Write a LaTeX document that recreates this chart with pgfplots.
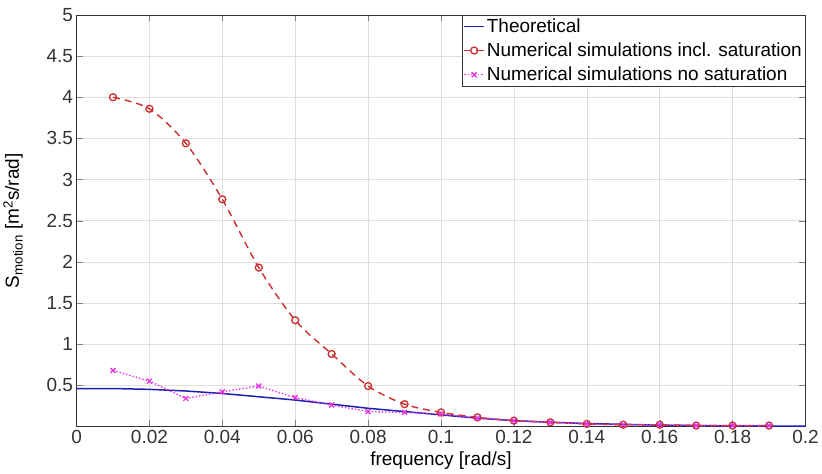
\documentclass[border=0pt]{standalone}
\usepackage{fontspec}
\setmainfont{Liberation Sans}
\usepackage{pgfplots}
\pgfplotsset{compat=1.18}

\definecolor{theo}{rgb}{0.12,0.12,0.7}
\definecolor{sat}{rgb}{0.8,0.18,0.18}
\definecolor{nosat}{rgb}{0.9,0.2,0.9}

\begin{document}
\begin{tikzpicture}
  \begin{axis}[
      scale only axis,
      width=730pt, height=412pt,
      xmin=0, xmax=0.2, ymin=0, ymax=5,
      xtick={0,0.02,...,0.2},
      ytick={0.5,1,...,5},
      xticklabels={0,0.02,0.04,0.06,0.08,0.1,0.12,0.14,0.16,0.18,0.2},
      scaled x ticks=false,
      tick align=inside,
      tick pos=both,
      major tick length=6pt,
      grid=major,
      major grid style={gray!25},
      axis line style={black!80, line width=0.8pt},
      font=\fontsize{19}{22}\selectfont,
      tick label style={font=\fontsize{19}{22}\selectfont, text=black!80},
      /pgf/number format/assume math mode=true,
      xlabel={frequency [rad/s]},
      ylabel={S\textsubscript{motion} [m\textsuperscript{2}s/rad]},
      xlabel style={yshift=-2pt},
      ylabel style={yshift=17pt},
      legend style={at={(1,1)}, anchor=north east, draw=black!80,
        font=\fontsize{19}{22}\selectfont, inner sep=1.5pt,
        legend cell align=left, row sep=5pt},
      legend image code/.code={
        \draw[#1] (0cm,0cm) -- (0.7cm,0cm);
        \draw[#1, mark repeat=2, mark phase=2] plot coordinates {(0cm,0cm) (0.35cm,0cm) (0.7cm,0cm)};
      },
    ]
    \addplot[theo, line width=1.5pt] coordinates {
      (0,0.46) (0.01,0.46) (0.02,0.45) (0.03,0.43) (0.04,0.40) (0.05,0.36)
      (0.06,0.32) (0.07,0.27) (0.08,0.22) (0.09,0.18) (0.10,0.14)
      (0.11,0.10) (0.12,0.07) (0.13,0.05) (0.14,0.035) (0.15,0.025)
      (0.16,0.015) (0.17,0.01) (0.18,0.006) (0.19,0.004) (0.2,0.003)
    };
    \addlegendentry{Theoretical}
    \addplot[sat, line width=1.4pt, dashed, dash pattern=on 7pt off 5pt, smooth,
      mark=o, mark size=3.5pt, mark options={solid, line width=1.3pt}] coordinates {
      (0.01,4.00) (0.02,3.86) (0.03,3.44) (0.04,2.76) (0.05,1.93)
      (0.06,1.29) (0.07,0.88) (0.08,0.49) (0.09,0.27) (0.10,0.17)
      (0.11,0.11) (0.12,0.07) (0.13,0.05) (0.14,0.03) (0.15,0.02)
      (0.16,0.02) (0.17,0.01) (0.18,0.01) (0.19,0.01)
    };
    \addlegendentry{Numerical simulations incl. saturation}
    \addplot[nosat, line width=1.4pt, dotted,
      mark=x, mark size=3.5pt, mark options={solid, line width=1.3pt}] coordinates {
      (0.01,0.68) (0.02,0.55) (0.03,0.34) (0.04,0.42) (0.05,0.49)
      (0.06,0.35) (0.07,0.26) (0.08,0.18) (0.09,0.17) (0.10,0.15)
      (0.11,0.10) (0.12,0.07) (0.13,0.05) (0.14,0.03) (0.15,0.02)
      (0.16,0.02) (0.17,0.01) (0.18,0.01) (0.19,0.01)
    };
    \addlegendentry{Numerical simulations no saturation}
  \end{axis}
  \path (current axis.north) ++(0,15pt);
\end{tikzpicture}
\end{document}
